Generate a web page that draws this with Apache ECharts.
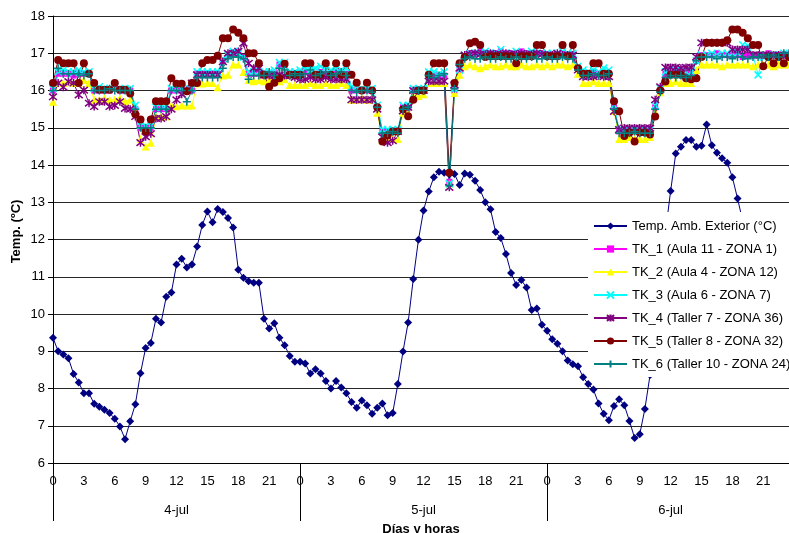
<!DOCTYPE html>
<html>
<head>
<meta charset="utf-8">
<script src="https://cdn.jsdelivr.net/npm/echarts@6/dist/echarts.min.js"></script>
<style>
  html, body { margin: 0; padding: 0; background: #fff; }
  #chart { width: 789px; height: 533px; }
</style>
</head>
<body>
<div id="chart"></div>
<script>
// 3 days, one reading every half hour (48 per day)
const days = ["4-jul", "5-jul", "6-jul"];
const hourLabels = ["0", "3", "6", "9", "12", "15", "18", "21"];

const tempExterior = [
  9.36, 9.0, 8.91, 8.81, 8.39, 8.16, 7.87, 7.87, 7.59, 7.51, 7.43, 7.34,
  7.19, 6.98, 6.64, 7.12, 7.58, 8.41, 9.09, 9.22, 9.87, 9.77, 10.46, 10.58,
  11.33, 11.48, 11.25, 11.33, 11.81, 12.39, 12.75, 12.46, 12.82, 12.74, 12.58, 12.32,
  11.19, 10.97, 10.88, 10.84, 10.84, 9.87, 9.61, 9.75, 9.36, 9.16, 8.87, 8.72,
  8.72, 8.67, 8.4, 8.52, 8.4, 8.2, 8.0, 8.2, 8.03, 7.87, 7.64, 7.48,
  7.68, 7.55, 7.32, 7.48, 7.6, 7.28, 7.34, 8.12, 8.99, 9.77, 10.94, 11.99,
  12.78, 13.29, 13.67, 13.82, 13.79, 13.75, 13.76, 13.46, 13.77, 13.74, 13.58, 13.33,
  13.0, 12.81, 12.2, 12.04, 11.61, 11.1, 10.78, 10.91, 10.71, 10.11, 10.15, 9.71,
  9.55, 9.32, 9.2, 9.0, 8.75, 8.65, 8.6, 8.3, 8.12, 7.97, 7.6, 7.32,
  7.15, 7.53, 7.71, 7.55, 7.13, 6.67, 6.77, 7.45, 8.36, 9.8, 11.0, 12.2,
  13.3, 14.31, 14.49, 14.67, 14.67, 14.49, 14.52, 15.09, 14.53, 14.33, 14.18, 14.06,
  13.67, 13.1, 12.5, 12.1, 11.7, 11.4, 11.1, 10.8, 10.6, 10.4, 10.3, 10.2
];

const tk1 = [
  16.0, 16.45, 16.45, 16.45, 16.4, 16.45, 16.45, 16.45,
  16.0, 16.0, 16.0, 16.0, 16.05, 16.0, 16.0, 16.0,
  15.5, 15.0, 15.0, 15.0, 15.5, 15.5, 15.5, 16.0,
  16.0, 16.0, 16.0, 16.0, 16.45, 16.45, 16.45, 16.45,
  16.45, 16.8, 16.95, 17.0, 17.0, 16.9, 16.45, 16.45,
  16.45, 16.4, 16.45, 16.45, 16.7, 16.7, 16.45, 16.45,
  16.45, 16.5, 16.45, 16.45, 16.5, 16.45, 16.45, 16.5,
  16.45, 16.45, 16.0, 16.0, 16.0, 16.0, 16.0, 15.55,
  14.9, 14.9, 14.9, 14.9, 15.55, 15.55, 16.0, 16.0,
  16.0, 16.4, 16.4, 16.4, 16.4, 13.55, 16.0, 16.55,
  16.9, 17.0, 17.0, 17.05, 17.0, 17.0, 17.0, 17.05,
  17.0, 17.0, 17.0, 17.05, 17.0, 17.0, 17.0, 17.0,
  16.95, 16.95, 16.95, 17.0, 16.95, 16.95, 16.6, 16.45,
  16.45, 16.5, 16.45, 16.45, 16.45, 15.55, 14.9, 14.9,
  14.9, 14.9, 14.9, 14.9, 14.9, 15.55, 16.0, 16.45,
  16.45, 16.5, 16.45, 16.45, 16.45, 16.8, 16.95, 16.95,
  16.95, 17.0, 16.95, 16.95, 16.95, 16.95, 16.9, 16.95,
  16.95, 16.95, 16.95, 17.0, 16.95, 16.95, 16.95, 16.95
];

const tk2 = [
  15.7, 16.2, 16.2, 16.25, 16.2, 16.2, 16.28, 16.2,
  15.75, 15.75, 15.8, 15.75, 15.75, 15.8, 15.71, 15.75,
  15.45, 14.7, 14.5, 14.6, 15.3, 15.3, 15.3, 15.6,
  15.58, 15.6, 15.6, 15.6, 16.2, 16.19, 16.2, 16.2,
  16.09, 16.4, 16.42, 16.7, 16.7, 16.5, 16.28, 16.25,
  16.28, 16.25, 16.28, 16.25, 16.25, 16.3, 16.15, 16.15,
  16.15, 16.15, 16.2, 16.15, 16.15, 16.2, 16.15, 16.15,
  16.2, 16.15, 15.75, 15.75, 15.8, 15.75, 15.75, 15.4,
  14.7, 14.75, 14.7, 14.7, 15.4, 15.4, 15.85, 15.85,
  15.9, 16.2, 16.2, 16.2, 16.2, 13.5, 15.93, 16.42,
  16.65, 16.7, 16.65, 16.6, 16.65, 16.7, 16.65, 16.65,
  16.7, 16.65, 16.65, 16.7, 16.65, 16.65, 16.7, 16.65,
  16.7, 16.65, 16.7, 16.7, 16.65, 16.7, 16.45, 16.2,
  16.2, 16.25, 16.2, 16.2, 16.2, 15.45, 14.7, 14.7,
  14.75, 14.7, 14.7, 14.7, 14.75, 15.4, 15.95, 16.2,
  16.2, 16.25, 16.2, 16.2, 16.2, 16.55, 16.7, 16.7,
  16.7, 16.7, 16.65, 16.7, 16.7, 16.7, 16.7, 16.7,
  16.65, 16.7, 16.7, 16.7, 16.65, 16.7, 16.7, 16.7
];

const tk3 = [
  16.05, 16.5, 16.55, 16.5, 16.5, 16.55, 16.5, 16.5,
  16.05, 16.1, 16.05, 16.05, 16.1, 16.05, 16.05, 16.05,
  15.6, 15.05, 15.05, 15.05, 15.55, 15.55, 15.6, 16.05,
  16.05, 16.05, 16.1, 16.05, 16.5, 16.5, 16.5, 16.5,
  16.5, 16.85, 16.95, 17.05, 17.0, 16.9, 16.5, 16.5,
  16.5, 16.5, 16.5, 16.55, 16.75, 16.75, 16.5, 16.5,
  16.55, 16.6, 16.55, 16.6, 16.65, 16.6, 16.55, 16.6,
  16.55, 16.6, 16.1, 16.1, 16.05, 16.1, 16.05, 15.6,
  14.95, 14.95, 14.95, 14.95, 15.6, 15.6, 16.05, 16.05,
  16.05, 16.5, 16.5, 16.45, 16.5, 13.5, 16.05, 16.55,
  16.95, 17.0, 17.0, 17.0, 17.05, 17.0, 17.0, 17.1,
  17.0, 17.0, 17.05, 17.0, 17.0, 17.05, 17.0, 17.0,
  17.0, 17.0, 17.0, 17.05, 17.0, 17.0, 16.65, 16.55,
  16.5, 16.55, 16.5, 16.6, 16.55, 15.6, 14.95, 14.95,
  14.95, 14.95, 14.95, 14.95, 14.95, 15.6, 16.05, 16.5,
  16.5, 16.55, 16.5, 16.5, 16.5, 16.8, 16.95, 16.95,
  17.0, 16.95, 17.0, 17.0, 17.0, 17.0, 17.23, 17.2,
  16.95, 16.42, 16.9, 16.95, 16.95, 16.95, 17.0, 16.95
];

const tk4 = [
  15.83, 16.2, 16.09, 16.24, 16.2, 15.88, 16.01, 15.66,
  15.57, 15.7, 15.7, 15.57, 15.6, 15.7, 15.52, 15.5,
  15.3, 14.6, 14.76, 14.84, 15.25, 15.25, 15.3, 15.5,
  15.75, 15.9, 16.0, 16.2, 16.42, 16.42, 16.42, 16.42,
  16.42, 16.77, 17.0, 17.0, 17.05, 17.27, 16.73, 16.6,
  16.6, 16.42, 16.4, 16.4, 16.42, 16.4, 16.4, 16.35,
  16.3, 16.3, 16.35, 16.3, 16.3, 16.35, 16.3, 16.3,
  16.3, 16.3, 15.75, 15.75, 15.75, 15.75, 15.75, 15.5,
  14.75, 14.6, 14.65, 14.9, 15.45, 15.55, 16.0, 16.0,
  16.0, 16.25, 16.25, 16.25, 16.25, 13.4, 16.15, 16.6,
  16.95, 16.97, 17.0, 16.97, 16.97, 17.0, 16.97, 16.97,
  17.0, 16.97, 16.97, 17.0, 16.97, 16.97, 17.0, 16.97,
  16.95, 16.95, 17.0, 16.95, 16.95, 16.95, 16.55, 16.37,
  16.37, 16.37, 16.4, 16.37, 16.37, 15.44, 14.95, 14.99,
  14.99, 14.99, 14.99, 14.99, 14.99, 15.75, 16.1, 16.62,
  16.62, 16.62, 16.6, 16.62, 16.62, 16.9, 17.28, 17.28,
  17.28, 17.28, 17.28, 17.28, 17.1, 17.1, 17.1, 17.1,
  16.95, 16.95, 16.95, 16.95, 16.95, 16.95, 16.95, 16.95
];

const tk5 = [
  16.2, 16.82, 16.73, 16.73, 16.73, 16.2, 16.73, 16.45,
  16.2, 16.02, 16.02, 16.02, 16.2, 16.02, 16.02, 15.92,
  15.36, 15.22, 14.9, 15.22, 15.71, 15.71, 15.71, 16.33,
  16.18, 16.18, 15.98, 16.2, 16.2, 16.73, 16.82, 16.82,
  16.93, 17.4, 17.4, 17.64, 17.55, 17.4, 17.0, 17.0,
  16.73, 16.42, 16.1, 16.21, 16.33, 16.72, 16.42, 16.42,
  16.42, 16.73, 16.73, 16.42, 16.42, 16.73, 16.42, 16.73,
  16.42, 16.73, 16.42, 16.21, 16.0, 16.21, 16.0, 15.55,
  14.63, 14.8, 14.9, 14.9, 15.5, 15.31, 15.75, 16.0,
  16.0, 16.42, 16.73, 16.73, 16.73, 13.79, 16.2, 16.73,
  16.9, 17.27, 17.31, 17.22, 16.9, 16.92, 16.92, 16.92,
  16.92, 16.92, 16.73, 16.92, 16.92, 16.92, 17.22, 17.22,
  16.92, 16.92, 16.92, 17.22, 16.92, 17.22, 16.6, 16.45,
  16.45, 16.73, 16.73, 16.45, 16.45, 15.71, 15.44, 14.78,
  14.87, 14.63, 14.87, 14.87, 14.82, 15.3, 16.0, 16.24,
  16.42, 16.42, 16.42, 16.33, 16.3, 16.33, 16.9, 17.28,
  17.28, 17.28, 17.28, 17.35, 17.64, 17.64, 17.55, 17.4,
  17.22, 17.22, 16.65, 16.9, 16.73, 16.9, 16.73, 16.9
];

const tk6 = [
  16.0, 16.6, 16.45, 16.45, 16.45, 16.45, 16.4, 16.45,
  16.0, 16.0, 16.0, 16.05, 16.0, 16.0, 16.0, 16.0,
  15.5, 15.0, 15.0, 15.0, 15.5, 15.5, 15.5, 16.0,
  16.0, 16.0, 15.7, 16.0, 16.35, 16.35, 16.35, 16.35,
  16.35, 16.6, 16.85, 16.9, 16.9, 16.85, 16.3, 16.4,
  16.4, 16.4, 16.5, 16.4, 16.6, 16.55, 16.4, 16.45,
  16.4, 16.45, 16.55, 16.4, 16.45, 16.5, 16.4, 16.45,
  16.5, 16.4, 16.0, 15.95, 16.0, 16.0, 15.95, 15.55,
  14.85, 14.85, 14.9, 14.85, 15.5, 15.55, 15.95, 16.0,
  16.0, 16.4, 16.35, 16.4, 16.45, 13.45, 16.05, 16.7,
  16.85, 16.9, 16.85, 16.85, 16.9, 16.85, 16.85, 16.9,
  16.85, 16.85, 16.9, 16.85, 16.85, 16.9, 16.85, 16.85,
  16.9, 16.85, 16.85, 16.9, 16.85, 16.85, 16.55, 16.4,
  16.4, 16.45, 16.4, 16.4, 16.45, 15.5, 14.85, 14.85,
  14.85, 14.9, 14.85, 14.85, 14.85, 15.5, 15.95, 16.35,
  16.4, 16.35, 16.4, 16.35, 16.4, 16.8, 16.9, 16.9,
  16.9, 16.85, 16.9, 16.9, 16.85, 16.9, 16.9, 16.85,
  16.9, 16.9, 16.95, 16.9, 16.95, 16.9, 17.0, 17.0
];

const slots = [];
days.forEach((d) => {
  for (let h = 0; h < 24; h++) {
    slots.push(d + " " + h + ":00");
    slots.push(d + " " + h + ":30");
  }
});

const FONT = "Liberation Sans, Arial, sans-serif";
const X_MARK = "path://M0,0L8,8M8,0L0,8";
const STAR_MARK = "path://M0,0L8,8M8,0L0,8M4,-1L4,9";
const PLUS_MARK = "path://M4,0L4,8M0,4L8,4";

function lineSeries(name, data, color, symbol, size, stroked) {
  return {
    name: name,
    type: "line",
    data: data,
    symbol: symbol,
    symbolSize: size,
    showAllSymbol: true,
    lineStyle: { color: color, width: 1 },
    itemStyle: { color: color, borderColor: color, borderWidth: stroked ? 1.5 : 0 },
    emphasis: { disabled: true },
  };
}

const chart = echarts.init(document.getElementById("chart"), null, { renderer: "canvas" });

chart.setOption({
  animation: false,
  backgroundColor: "#fff",
  textStyle: { fontFamily: FONT, color: "#000" },
  grid: { left: 53, right: 0, top: 16, bottom: 70, outerBoundsMode: "none" },
  legend: {
    orient: "vertical",
    left: 588,
    top: 212,
    padding: [7, 30, 6, 5],
    itemGap: 9,
    itemWidth: 33,
    itemHeight: 9,
    backgroundColor: "#fff",
    textStyle: { fontFamily: FONT, fontSize: 13, color: "#000", lineHeight: 14 },
    data: [
      "Temp. Amb. Exterior (°C)",
      "TK_1 (Aula 11 - ZONA 1)",
      "TK_2 (Aula 4 - ZONA 12)",
      "TK_3 (Aula 6 - ZONA 7)",
      "TK_4 (Taller 7 - ZONA 36)",
      "TK_5 (Taller 8 - ZONA 32)",
      "TK_6 (Taller 10 - ZONA 24)",
    ],
  },
  xAxis: [
    {
      type: "category",
      data: slots,
      boundaryGap: false,
      axisLine: { lineStyle: { color: "#000", width: 1 } },
      axisTick: { show: false },
      axisLabel: {
        interval: 5,
        margin: 12,
        fontSize: 13,
        color: "#000",
        formatter: (v, i) => hourLabels[(i % 48) / 6],
      },
      splitLine: { show: false },
    },
    {
      type: "category",
      position: "bottom",
      data: slots,
      boundaryGap: false,
      axisLine: { show: false },
      axisTick: {
        show: true,
        interval: (i) => i % 48 === 0,
        length: 58,
        lineStyle: { color: "#000", width: 1 },
      },
      axisLabel: {
        interval: (i) => i % 48 === 24,
        margin: 41,
        fontSize: 13,
        color: "#000",
        formatter: (v, i) => days[Math.floor(i / 48)],
      },
      name: "Días y horas",
      nameLocation: "middle",
      nameGap: 60,
      nameTextStyle: { fontWeight: "bold", fontSize: 13, color: "#000" },
    },
  ],
  yAxis: {
    type: "value",
    min: 6,
    max: 18,
    interval: 1,
    axisLine: { show: true, lineStyle: { color: "#000" } },
    axisTick: { show: true, length: 5, lineStyle: { color: "#000" } },
    axisLabel: { margin: 8, fontSize: 13, color: "#000" },
    splitLine: { lineStyle: { color: "#262626", width: 1 } },
    name: "Temp. (ºC)",
    nameLocation: "middle",
    nameGap: 30,
    nameMoveOverlap: false,
    nameTextStyle: { fontWeight: "bold", fontSize: 13, color: "#000", padding: [0, 0, 0, 16] },
  },
  series: [
    lineSeries("Temp. Amb. Exterior (°C)", tempExterior, "#000080", "diamond", 8, false),
    lineSeries("TK_1 (Aula 11 - ZONA 1)", tk1, "#ff00ff", "rect", 6, false),
    lineSeries("TK_2 (Aula 4 - ZONA 12)", tk2, "#ffff00", "triangle", 8, false),
    lineSeries("TK_3 (Aula 6 - ZONA 7)", tk3, "#00ffff", X_MARK, 7, true),
    lineSeries("TK_4 (Taller 7 - ZONA 36)", tk4, "#800080", STAR_MARK, 8, true),
    lineSeries("TK_5 (Taller 8 - ZONA 32)", tk5, "#800000", "circle", 8, false),
    lineSeries("TK_6 (Taller 10 - ZONA 24)", tk6, "#008080", PLUS_MARK, 8, true),
  ],
});
</script>
</body>
</html>
